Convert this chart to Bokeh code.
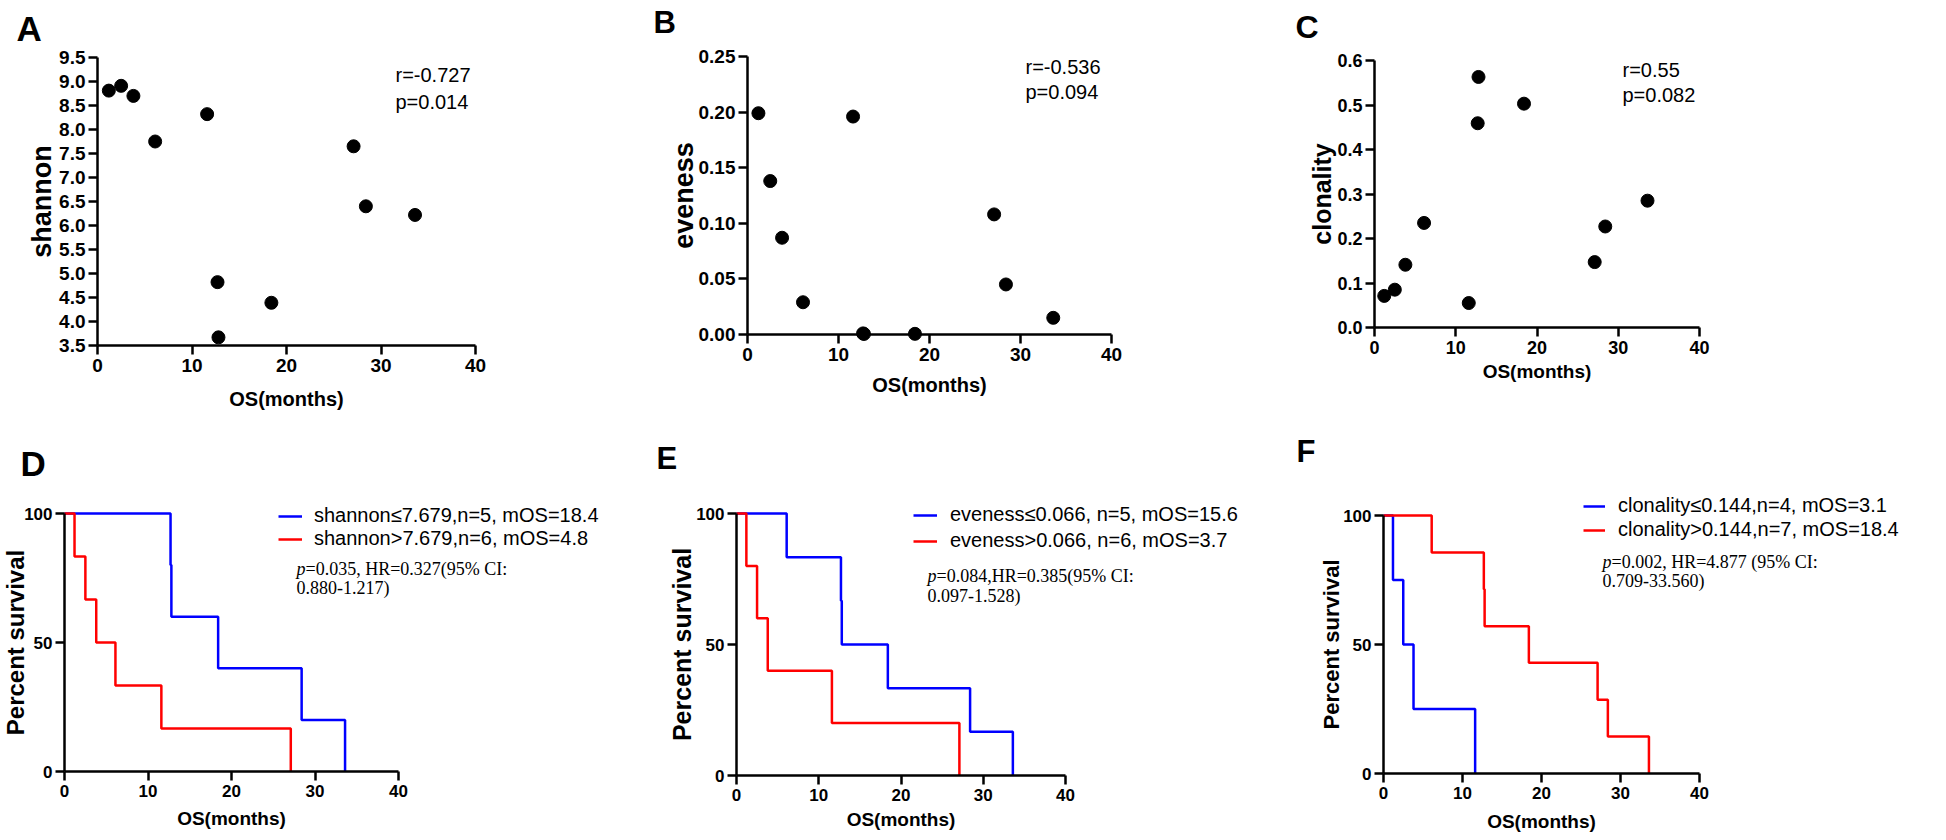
from math import pi
from bokeh.plotting import figure
from bokeh.models import (Label, Legend, LegendItem, FixedTicker, PrintfTickFormatter,
                          ColumnDataSource, Range1d, CDSView, IndexFilter)
from bokeh.layouts import row, column
from bokeh.embed import file_html
from bokeh.resources import INLINE

SANS = "Liberation Sans"
SERIF = "Liberation Serif"

# ---------------- data ----------------
os_months = [1.2, 2.5, 3.8, 6.1, 11.6, 12.7, 12.8, 18.4, 27.1, 28.4, 33.6]
shannon = [8.81, 8.91, 8.70, 7.75, 8.32, 4.82, 3.67, 4.39, 7.65, 6.40, 6.22]
eveness = [0.199, 0.138, 0.087, 0.029, 0.196, 0.001, 0.0005, 0.0006, 0.108, 0.045, 0.015]
clonality = [0.071, 0.085, 0.141, 0.235, 0.055, 0.459, 0.563, 0.503, 0.147, 0.227, 0.285]

x_ticks = [0, 10, 20, 30, 40]
shannon_ticks = [3.5, 4.0, 4.5, 5.0, 5.5, 6.0, 6.5, 7.0, 7.5, 8.0, 8.5, 9.0, 9.5]
eveness_ticks = [0.0, 0.05, 0.10, 0.15, 0.20, 0.25]
clonality_ticks = [0.0, 0.1, 0.2, 0.3, 0.4, 0.5, 0.6]
survival_ticks = [0, 50, 100]

# Kaplan-Meier steps (time, percent survival)
d_low_t = [0, 12.7, 12.8, 18.4, 28.4, 33.6]
d_low_s = [100, 80, 60, 40, 20, 0]
d_high_t = [0, 1.2, 2.5, 3.8, 6.1, 11.6, 27.1]
d_high_s = [100, 83.3, 66.7, 50, 33.3, 16.7, 0]

e_low_t = [0, 6.1, 12.7, 12.8, 18.4, 28.4, 33.6]
e_low_s = [100, 83.3, 66.7, 50, 33.3, 16.7, 0]
e_high_t = [0, 1.2, 2.5, 3.8, 11.6, 27.1]
e_high_s = [100, 80, 60, 40, 20, 0]

f_low_t = [0, 1.2, 2.5, 3.8, 11.6]
f_low_s = [100, 75, 50, 25, 0]
f_high_t = [0, 6.1, 12.7, 12.8, 18.4, 27.1, 28.4, 33.6]
f_high_s = [100, 85.7, 71.4, 57.1, 42.9, 28.6, 14.3, 0]

# ---------------- page geometry (px) ----------------
GEOM = {
    "A": dict(ox=0, oy=0, w=638, h=420, box=(97, 57, 475, 345)),
    "B": dict(ox=638, oy=0, w=650, h=420, box=(747, 56, 1111, 334)),
    "C": dict(ox=1288, oy=0, w=652, h=420, box=(1374, 60, 1699, 327)),
    "D": dict(ox=0, oy=420, w=638, h=418, box=(64, 513, 398, 771)),
    "E": dict(ox=638, oy=420, w=650, h=418, box=(736, 513, 1065, 775)),
    "F": dict(ox=1288, oy=420, w=652, h=418, box=(1383, 515, 1699, 773)),
}
BL = 9  # baseline correction of Label text


def make_fig(key, xr, yr, yticks, yfmt, tick_size):
    g = GEOM[key]
    x0, y0, x1, y1 = g["box"]
    sx = (x1 - x0) / (xr[1] - xr[0])
    sy = (y1 - y0) / (yr[1] - yr[0])
    xs = xr[0] - (x0 - g["ox"]) / sx
    xe = xr[1] + (g["ox"] + g["w"] - x1) / sx
    ys = yr[0] - (g["oy"] + g["h"] - y1) / sy
    ye = yr[1] + (y0 - g["oy"]) / sy
    p = figure(width=g["w"], height=g["h"], min_border=0,
               x_range=Range1d(xs, xe), y_range=Range1d(ys, ye),
               output_backend="svg", toolbar_location=None)
    p.title.visible = False
    p.outline_line_color = None
    p.xgrid.visible = False
    p.ygrid.visible = False
    p.background_fill_color = "white"
    p.border_fill_color = "white"
    p.xaxis.fixed_location = yr[0]
    p.xaxis.bounds = xr
    p.yaxis.fixed_location = xr[0]
    p.yaxis.bounds = yr
    for ax in (p.xaxis[0], p.yaxis[0]):
        ax.axis_line_width = 2.5
        ax.axis_line_color = "black"
        ax.major_tick_line_width = 2.5
        ax.major_tick_line_color = "black"
        ax.major_tick_out = 9
        ax.major_tick_in = 0
        ax.minor_tick_out = 0
        ax.minor_tick_in = 0
        ax.major_label_text_font = SANS
        ax.major_label_text_font_style = "bold"
        ax.major_label_text_font_size = f"{tick_size}px"
        ax.major_label_text_color = "black"
    p.xaxis.ticker = FixedTicker(ticks=x_ticks)
    p.yaxis.ticker = FixedTicker(ticks=yticks)
    p.yaxis.formatter = PrintfTickFormatter(format=yfmt)
    p.xaxis.major_label_standoff = 4
    p.yaxis.major_label_standoff = 3
    return p


def text_at(p, key, xr, yr, X, Y, text, size=20, style="normal", font=SANS, align="left"):
    """Horizontal text with its left (or centre) at page x X and baseline at page y Y."""
    x0, y0, _, _ = GEOM[key]["box"]
    p.add_layout(Label(x=xr[0], y=yr[1], x_offset=X - x0, y_offset=y0 - Y + BL, text=text,
                       text_font=font, text_font_size=f"{size}px",
                       text_font_style=style, text_align=align,
                       text_baseline="alphabetic", text_color="black"))


def ytitle(p, key, xr, yr, X, text, size):
    """Vertical title, baseline at page x X, centred on the data box."""
    x0 = GEOM[key]["box"][0]
    p.add_layout(Label(x=xr[0], y=(yr[0] + yr[1]) / 2, x_offset=X - x0 - BL, y_offset=0,
                       text=text, text_font=SANS, text_font_size=f"{size}px",
                       text_font_style="bold", text_align="center",
                       text_baseline="alphabetic", angle=pi / 2, text_color="black"))


def common_titles(p, key, xr, yr, letter_xy, letter_size, ylab, ylab_x, ylab_size,
                  xlab_y, xlab_size):
    x0, _, x1, _ = GEOM[key]["box"]
    text_at(p, key, xr, yr, letter_xy[0], letter_xy[1], key, size=letter_size, style="bold")
    ytitle(p, key, xr, yr, ylab_x, ylab, ylab_size)
    text_at(p, key, xr, yr, (x0 + x1) / 2, xlab_y, "OS(months)", size=xlab_size,
            style="bold", align="center")


def scatter_panel(key, yr, yvals, yticks, yfmt, tick_size, letter_xy, letter_size,
                  ylab, ylab_x, ylab_size, xlab_y, xlab_size, r_txt, p_txt, sx, sy1, sy2):
    xr = (0, 40)
    p = make_fig(key, xr, yr, yticks, yfmt, tick_size)
    p.scatter(os_months, yvals, size=13, color="black")
    common_titles(p, key, xr, yr, letter_xy, letter_size, ylab, ylab_x, ylab_size,
                  xlab_y, xlab_size)
    text_at(p, key, xr, yr, sx, sy1, r_txt, size=20)
    text_at(p, key, xr, yr, sx, sy2, p_txt, size=20)
    return p


def legend_tick(p, curve, color):
    # censor-tick glyph shown only in the legend (no points drawn on the plot)
    src = ColumnDataSource(data=dict(x=curve[0], y=curve[1]))
    return p.scatter("x", "y", source=src, view=CDSView(filter=IndexFilter(indices=[])),
                     marker="cross", size=8, line_color=color, line_width=2)


def km_panel(key, tick_size, letter_xy, letter_size, ylab_x, ylab_size, xlab_y, xlab_size,
             low, high, leg_labels, glyph_left, first_center, leg_sp, glyph_w, standoff,
             p_rest, ci_txt, px, py1, py2):
    xr, yr = (0, 40), (0, 100)
    g = GEOM[key]
    p = make_fig(key, xr, yr, survival_ticks, "%d", tick_size)
    r1 = p.step(low[0], low[1], mode="after", line_color="#0000FF", line_width=2.5)
    r2 = p.step(high[0], high[1], mode="after", line_color="#FF0000", line_width=2.5)
    t1 = legend_tick(p, low, "#0000FF")
    t2 = legend_tick(p, high, "#FF0000")
    item_h = 22
    leg_top = first_center - item_h / 2
    leg_bottom = leg_top + 2 * item_h + leg_sp
    loc = (glyph_left - g["ox"], g["oy"] + g["h"] - leg_bottom)
    leg = Legend(items=[LegendItem(label=leg_labels[0], renderers=[r1, t1]),
                        LegendItem(label=leg_labels[1], renderers=[r2, t2])],
                 location=loc, orientation="vertical",
                 glyph_width=glyph_w, glyph_height=item_h, label_height=item_h,
                 label_standoff=standoff, spacing=leg_sp, padding=0, margin=0,
                 border_line_color=None, background_fill_alpha=0,
                 label_text_font=SANS, label_text_font_size="20px",
                 label_text_color="black")
    p.add_layout(leg)
    common_titles(p, key, xr, yr, letter_xy, letter_size, "Percent survival", ylab_x,
                  ylab_size, xlab_y, xlab_size)
    text_at(p, key, xr, yr, px, py1, "p", size=18, font=SERIF, style="italic")
    text_at(p, key, xr, yr, px + 9, py1, p_rest, size=18, font=SERIF)
    text_at(p, key, xr, yr, px, py2, ci_txt, size=18, font=SERIF)
    return p


pA = scatter_panel("A", (3.5, 9.5), shannon, shannon_ticks, "%.1f", 19, (16, 37), 35,
                   "shannon", 50, 27, 407, 20, "r=-0.727", "p=0.014", 395, 83, 110)
pB = scatter_panel("B", (0, 0.25), eveness, eveness_ticks, "%.2f", 19, (653, 31), 31,
                   "eveness", 692, 27, 393, 20, "r=-0.536", "p=0.094", 1025, 75, 100)
pC = scatter_panel("C", (0, 0.6), clonality, clonality_ticks, "%.1f", 18, (1295, 35), 32,
                   "clonality", 1330, 25, 380, 19, "r=0.55", "p=0.082", 1622, 78, 103)

pD = km_panel("D", 17, (20, 472), 35, 24, 24, 827, 19,
              (d_low_t, d_low_s), (d_high_t, d_high_s),
              ["shannon\u22647.679,n=5, mOS=18.4", "shannon>7.679,n=6, mOS=4.8"],
              278, 517, 0, 24, 12,
              "=0.035, HR=0.327(95% CI:", "0.880-1.217)", 296, 577, 596)
pE = km_panel("E", 17, (656, 467), 31, 690, 25, 828, 19,
              (e_low_t, e_low_s), (e_high_t, e_high_s),
              ["eveness\u22640.066, n=5, mOS=15.6", "eveness>0.066, n=6, mOS=3.7"],
              913, 516, 3, 24, 13,
              "=0.084,HR=0.385(95% CI:", "0.097-1.528)", 927, 584, 604)
pF = km_panel("F", 17, (1296, 460), 31, 1340, 22, 830, 19,
              (f_low_t, f_low_s), (f_high_t, f_high_s),
              ["clonality\u22640.144,n=4, mOS=3.1", "clonality>0.144,n=7, mOS=18.4"],
              1583, 507, 1, 22, 13,
              "=0.002, HR=4.877 (95% CI:", "0.709-33.560)", 1602, 570, 589)

layout = column(row(pA, pB, pC), row(pD, pE, pF))

open("out.html", "w").write(file_html(layout, INLINE))
